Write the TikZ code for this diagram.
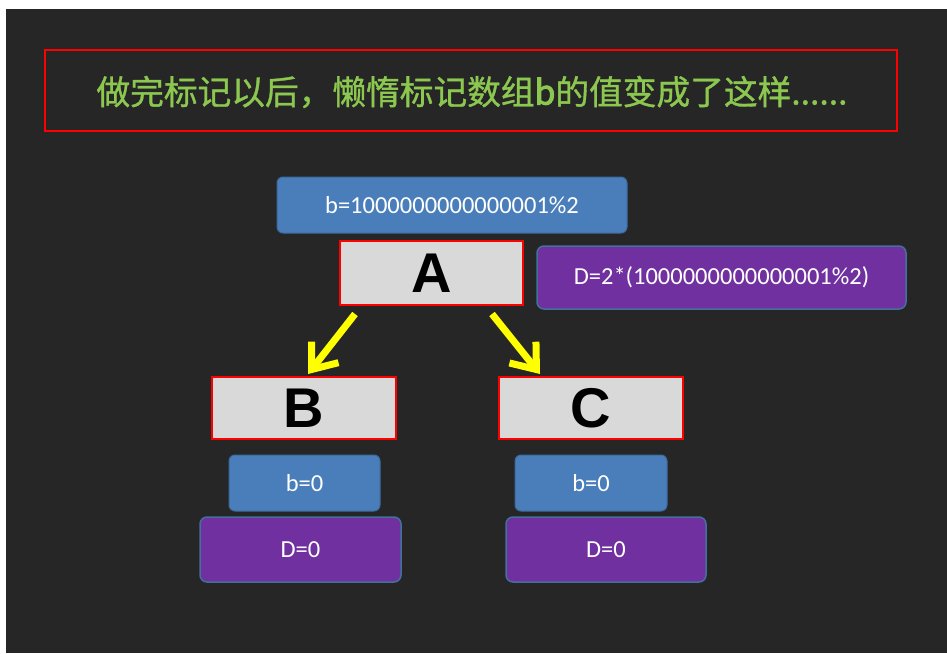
\documentclass[tikz,border=0pt]{standalone}
\usepackage{fontspec}
\setmainfont{Carlito}
\newfontfamily\cjk{Noto Sans CJK SC}[FakeBold=1, AutoFakeBold=3]
\newfontfamily\abc{Liberation Sans}
\usetikzlibrary{arrows.meta}
\definecolor{bgdark}{HTML}{262626}
\definecolor{tgreen}{HTML}{8CC850}
\definecolor{obl}{HTML}{4A7EBB}
\definecolor{oblb}{HTML}{3C6A9E}
\definecolor{opur}{HTML}{7030A0}
\definecolor{opurb}{HTML}{41719C}
\definecolor{gfill}{HTML}{D9D9D9}
\definecolor{rline}{HTML}{FF0000}
\definecolor{yel}{HTML}{FFFF00}
\tikzset{
  titlebox/.style={draw=rline,line width=2.5pt,minimum width=852pt,minimum height=81pt,inner sep=0pt},
  bluebox/.style={fill=obl,draw=oblb,line width=1pt,rounded corners=6pt,text=white,font=\fontsize{24.5}{24.5}\selectfont,inner sep=0pt},
  purbox/.style={fill=opur,draw=opurb,line width=1.5pt,rounded corners=7pt,text=white,font=\fontsize{24.5}{24.5}\selectfont,inner sep=0pt},
  letterbox/.style={fill=gfill,draw=rline,line width=2pt,font=\abc\bfseries\fontsize{56}{56}\selectfont,inner sep=0pt},
  yarrow/.style={draw=yel,line width=7pt,-{Straight Barb[length=22pt,width=34pt]}}
}
\begin{document}
\begin{tikzpicture}[x=1pt,y=-1pt]
\useasboundingbox (0,0) rectangle (947,653);
\fill[white] (0,0) rectangle (947,653);
\fill[bgdark] (6,9) rectangle (947,653);
\node[titlebox] (title) at (471,90.5) {};
\node[text=tgreen,font=\cjk\fontsize{33.7}{33.7}\selectfont] (ttext) at (472,92) {做完标记以后，懒惰标记数组\textbf{b}的值变成了这样......};
\node[bluebox,minimum width=350pt,minimum height=56pt] (btop) at (452,205) {b=1000000000000001\%2};
\node[letterbox,minimum width=183pt,minimum height=64pt] (A) at (431.5,273) {A};
\node[purbox,minimum width=369pt,minimum height=63pt] (Dtop) at (721.5,277.5) {D=2*(1000000000000001\%2)};
\node[letterbox,minimum width=184pt,minimum height=62pt] (B) at (304,408) {B};
\node[letterbox,minimum width=184pt,minimum height=62pt] (C) at (591,408) {C};
\node[bluebox,minimum width=151pt,minimum height=56pt] (bL) at (304.5,483) {b=0};
\node[bluebox,minimum width=152pt,minimum height=56pt] (bR) at (591,483) {b=0};
\node[purbox,minimum width=201pt,minimum height=65pt] (DL) at (300.5,549.5) {D=0};
\node[purbox,minimum width=200pt,minimum height=65pt] (DR) at (606,549.5) {D=0};
\coordinate (a1s) at (355,314);
\coordinate (a1e) at (308,374);
\coordinate (a2s) at (492,314);
\coordinate (a2e) at (540,374);
\draw[yarrow] (a1s) -- (a1e);
\draw[yarrow] (a2s) -- (a2e);
\end{tikzpicture}
\end{document}
